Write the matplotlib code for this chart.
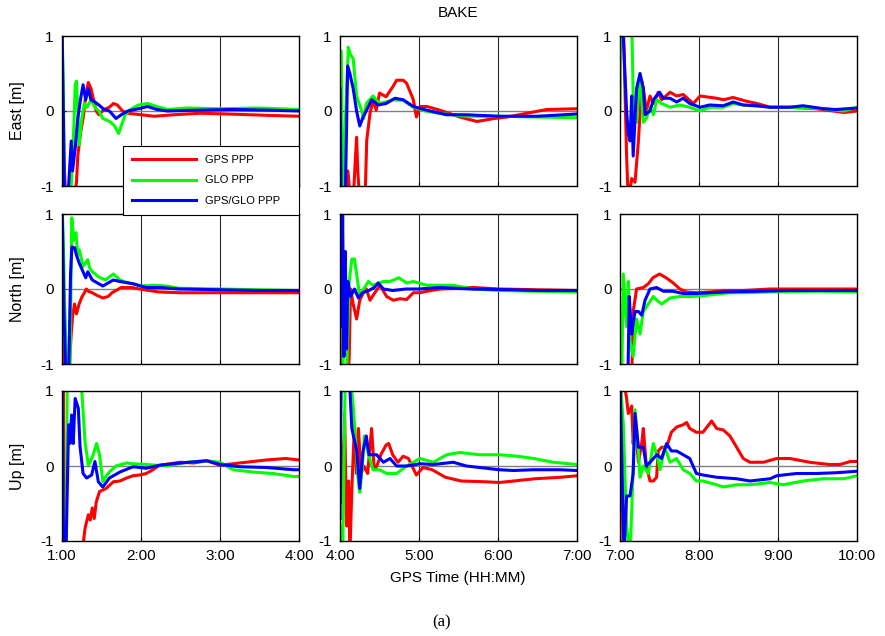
import matplotlib
matplotlib.use("Agg")
import matplotlib.pyplot as plt
import numpy as np

plt.rcParams['font.family'] = ['Liberation Sans', 'DejaVu Sans']
plt.rcParams['axes.unicode_minus'] = False

# ---- data: minutes after session start, metres ----
# East, session 1 (1:00-4:00)
e1_gps_t = [0, 1, 3, 6, 9, 11, 12, 14, 16, 18, 20, 22, 24, 26, 28, 32, 36, 39, 42, 46, 50, 60, 70, 85, 105, 125, 143, 160, 180]
e1_gps = [0.0, -0.5, -1.2, -1.2, -1.2, -0.95, -0.6, -0.3, -0.1, 0.2, 0.38, 0.3, 0.15, 0.0, -0.05, 0.02, 0.05, 0.1, 0.08, 0.0, -0.03, -0.05, -0.07, -0.05, -0.03, -0.04, -0.05, -0.06, -0.07]
e1_glo_t = [0, 1, 2, 4, 7, 8, 9, 10, 11, 12, 13, 15, 17, 19, 22, 25, 28, 31, 34, 37, 40, 43, 45, 48, 52, 58, 65, 72, 80, 95, 120, 150, 180]
e1_glo = [1.2, 0.2, -1.2, -1.2, -1.0, -0.6, -0.2, 0.35, 0.4, 0.0, -0.45, -0.1, 0.1, 0.05, 0.15, 0.05, 0.0, -0.1, -0.12, -0.15, -0.2, -0.3, -0.2, -0.05, 0.02, 0.08, 0.1, 0.06, 0.02, 0.04, 0.03, 0.04, 0.02]
e1_cmb_t = [0, 1, 2, 5, 7, 8, 10, 12, 14, 16, 18, 20, 22, 25, 28, 32, 36, 41, 45, 50, 58, 65, 72, 80, 100, 130, 160, 180]
e1_cmb = [1.2, 0.0, -1.2, -1.0, -0.4, -0.8, -0.5, -0.1, 0.15, 0.35, 0.15, 0.3, 0.15, 0.12, 0.08, 0.02, 0.0, -0.1, -0.05, 0.0, 0.03, 0.06, 0.02, 0.0, 0.01, 0.02, 0.01, 0.0]

# North, session 1
n1_gps_t = [0, 0.5, 1.5, 5, 7, 8, 9.5, 11, 13, 15, 17, 18.5, 20, 23, 26, 31, 35, 38, 41, 45, 49, 53, 59, 66, 74, 90, 120, 150, 180]
n1_gps = [-0.45, -1.2, -1.2, -1.2, -0.6, -0.37, -0.2, -0.33, -0.2, -0.11, -0.05, 0.0, -0.03, -0.05, -0.08, -0.12, -0.1, -0.05, -0.02, 0.02, 0.02, 0.02, 0.0, -0.02, -0.04, -0.05, -0.05, -0.05, -0.05]
n1_glo_t = [0, 1, 2, 4, 6, 7.4, 9, 10.6, 12, 13.2, 16, 19.5, 21, 23, 28, 33, 39, 44, 50, 54, 59, 70, 79, 89, 120, 150, 180]
n1_glo = [1.2, 0.63, -0.2, -1.2, -1.2, 0.95, 0.65, 0.75, 0.45, 0.52, 0.3, 0.39, 0.28, 0.23, 0.16, 0.12, 0.2, 0.12, 0.08, 0.07, 0.04, 0.05, 0.04, 0.01, 0.0, -0.01, -0.02]
n1_cmb_t = [0, 1.5, 3, 5, 6.5, 7.5, 9.6, 11, 13, 16, 18, 19.6, 23, 27, 31, 35, 39, 44, 54, 64, 74, 89, 120, 150, 180]
n1_cmb = [1.2, -0.3, -1.2, -1.2, 0.2, 0.56, 0.55, 0.45, 0.35, 0.23, 0.15, 0.23, 0.12, 0.08, 0.04, 0.08, 0.12, 0.1, 0.07, 0.02, 0.02, 0.0, -0.01, -0.02, -0.02]

# Up, session 1
u1_gps_t = [0, 0.8, 2, 5, 10, 16, 17.5, 20, 21.5, 23, 24.5, 26, 28.5, 33.5, 39, 44, 49, 54, 59, 64, 69, 74, 90, 100, 110, 120, 135, 155, 170, 180]
u1_gps = [-1.2, 1.2, -1.2, -1.2, -1.2, -1.05, -0.83, -0.65, -0.72, -0.56, -0.7, -0.48, -0.34, -0.3, -0.21, -0.2, -0.16, -0.13, -0.12, -0.1, -0.05, 0.01, 0.05, 0.04, 0.07, 0.01, 0.04, 0.08, 0.1, 0.08]
u1_glo_t = [0, 0.5, 1.5, 3, 4, 6, 10, 15, 17.5, 20, 22, 23.7, 26.3, 28.5, 31, 33, 36, 41, 49, 54, 64, 72, 79, 95, 110, 120, 130, 145, 160, 176, 180]
u1_glo = [0.5, -1.2, -1.2, -1.2, 1.2, 1.2, 1.2, 1.0, 0.32, 0.01, 0.08, 0.15, 0.3, 0.15, -0.21, -0.15, -0.08, 0.0, 0.04, 0.03, 0.02, 0.01, 0.0, 0.05, 0.07, 0.05, -0.05, -0.08, -0.1, -0.14, -0.14]
u1_cmb_t = [0, 0.7, 1.5, 3, 5, 6, 7.3, 8.5, 10, 12.4, 13.7, 16, 18.7, 22.5, 25, 27.6, 31, 36, 44, 54, 64, 74, 90, 110, 120, 135, 155, 176, 180]
u1_cmb = [1.2, -0.5, -1.2, -1.2, 0.55, 0.3, 0.68, 0.3, 0.9, 0.77, 0.26, -0.1, -0.16, -0.12, 0.06, -0.21, -0.28, -0.16, -0.08, -0.01, -0.03, 0.01, 0.04, 0.07, 0.02, -0.01, -0.02, -0.05, -0.05]

# East, session 2 (4:00-7:00)
e2_gps_t = [0, 1, 3, 6, 8, 10, 11.5, 12.6, 13.5, 15, 17, 19, 20.3, 22.8, 25.3, 27.5, 30, 35, 40, 43, 48, 50.6, 55.7, 58, 60.8, 66, 76, 91, 104, 117, 127, 142, 157, 180]
e2_gps = [-1.2, -0.85, -1.2, -0.8, -1.2, -1.2, -0.7, -0.35, -0.8, -1.2, -1.2, -1.2, -0.39, -0.03, 0.15, 0.01, 0.24, 0.19, 0.32, 0.41, 0.41, 0.37, 0.15, -0.08, 0.06, 0.06, 0.01, -0.08, -0.14, -0.1, -0.08, -0.03, 0.02, 0.03]
e2_glo_t = [0, 1, 2, 4, 6.3, 8, 10, 12.6, 14.5, 16.5, 18, 20, 25, 30, 35, 40, 48, 55.7, 65, 71, 85, 96, 120, 147, 180]
e2_glo = [0.8, 0.8, -1.2, -0.2, 0.85, 0.75, 0.7, 0.2, 0.1, 0.0, -0.1, 0.1, 0.2, 0.1, 0.12, 0.15, 0.14, 0.05, 0.0, -0.02, -0.05, -0.07, -0.07, -0.08, -0.09]
e2_cmb_t = [0, 1, 2.5, 4, 5.8, 7.5, 10, 12.6, 15, 17.5, 20.2, 24, 29, 35, 41.7, 48, 55.7, 66, 81, 96, 121, 150, 180]
e2_cmb = [0.3, -1.2, -1.2, -1.2, 0.6, 0.5, 0.3, 0.0, -0.2, -0.08, 0.01, 0.15, 0.08, 0.1, 0.17, 0.15, 0.06, 0.01, -0.05, -0.05, -0.07, -0.07, -0.04]

# North, session 2
n2_gps_t = [0, 1, 2, 4, 6, 7, 8, 10, 12.6, 15, 17.7, 20, 22.8, 25.3, 30.4, 35.4, 40.5, 45.5, 50.6, 55.7, 60.8, 66, 76, 91, 101, 111, 121, 150, 180]
n2_gps = [1.2, 0.3, -1.2, -1.2, -1.2, -0.9, 0.0, -0.2, -0.4, -0.15, -0.05, 0.0, -0.15, -0.08, 0.05, -0.1, -0.15, -0.13, -0.14, -0.05, -0.05, -0.03, 0.0, 0.01, 0.02, 0.01, 0.0, -0.01, -0.02]
n2_glo_t = [0, 1.5, 2.5, 5, 7, 9, 11, 12.6, 15, 18, 21.5, 25, 33, 38, 44.6, 50.6, 55.7, 66, 86, 101, 121, 150, 180]
n2_glo = [1.2, 1.2, -1.2, -1.2, 0.1, 0.4, 0.4, 0.2, -0.1, 0.0, 0.1, 0.05, 0.1, 0.1, 0.15, 0.08, 0.1, 0.05, 0.05, 0.0, -0.02, -0.03, -0.04]
n2_cmb_t = [0, 1, 2, 3, 4, 5, 6, 8, 11, 14, 17, 22, 26, 29, 33, 40, 50, 60, 76, 100, 130, 150, 180]
n2_cmb = [1.2, -0.5, 1.0, -0.9, 0.5, -0.8, 0.1, -0.1, 0.0, -0.12, -0.05, -0.02, 0.02, 0.08, 0.0, -0.02, 0.0, 0.0, 0.02, 0.0, -0.01, -0.02, -0.02]

# Up, session 2
u2_gps_t = [0, 2, 3.5, 5, 6.5, 7.5, 9, 11, 12.5, 14, 16, 18, 21, 24, 26, 28, 31, 35, 37, 40, 44, 48, 52, 58, 63, 70, 80, 92, 110, 121, 132, 148, 168, 180]
u2_gps = [0.6, -0.5, 0.7, -0.8, -0.2, -1.2, -0.3, 0.55, -0.1, 0.5, -0.1, 0.0, -0.1, 0.5, -0.05, 0.0, 0.15, 0.28, 0.3, 0.15, 0.05, 0.13, 0.1, -0.12, -0.02, -0.05, -0.15, -0.2, -0.21, -0.22, -0.2, -0.17, -0.15, -0.13]
u2_glo_t = [0, 1, 2, 4, 6, 8, 10, 12, 13.9, 15, 17, 18.5, 21, 25, 30, 35.4, 43, 50.6, 60.8, 71, 81, 91, 106, 121, 135, 147, 162, 180]
u2_glo = [-0.8, -1.2, -1.2, 1.2, 1.2, 1.2, 0.8, 0.3, -0.2, -0.35, 0.0, 0.4, 0.2, -0.05, -0.05, -0.1, -0.1, 0.0, 0.1, 0.05, 0.15, 0.18, 0.15, 0.15, 0.13, 0.1, 0.05, 0.02]
u2_cmb_t = [0, 0.5, 1, 7, 9, 12.7, 15, 17.5, 20, 22, 27.8, 33, 38, 43, 50.6, 60.8, 71, 86, 96, 111, 121, 132, 147, 167, 180]
u2_cmb = [-0.7, 0.5, 1.2, 1.2, 0.5, 0.2, -0.3, 0.2, 0.4, 0.15, 0.15, 0.05, 0.1, 0.0, 0.0, 0.03, 0.02, 0.05, 0.0, -0.03, -0.05, -0.06, -0.05, -0.05, -0.06]

# East, session 3 (7:00-10:00)
e3_gps_t = [0, 2.5, 5, 6.3, 8.9, 11.4, 14, 16.5, 17.7, 20, 22.8, 25.3, 29, 31.6, 38, 43, 48, 55.7, 60.8, 73.4, 78.5, 86, 96, 104, 114, 129, 149, 162, 170, 180]
e3_gps = [1.2, 1.2, -0.6, -1.2, -0.9, -0.95, -0.4, 0.4, 0.3, 0.0, 0.2, 0.1, 0.25, 0.15, 0.25, 0.2, 0.22, 0.1, 0.2, 0.17, 0.15, 0.18, 0.13, 0.1, 0.05, 0.05, 0.03, 0.0, -0.02, 0.0]
e3_glo_t = [0, 0.5, 2, 5.6, 8.9, 10, 12.6, 15.2, 17.7, 20, 22.8, 25.3, 28, 31.6, 38, 45.5, 53, 60.8, 68, 78.5, 86, 93.6, 114, 129, 155, 170, 180]
e3_glo = [0.0, 1.2, 1.2, 1.2, 1.2, 0.2, -0.15, 0.5, -0.15, -0.1, 0.05, -0.05, 0.15, 0.1, 0.05, 0.08, 0.05, 0.0, 0.05, 0.05, 0.1, 0.08, 0.05, 0.05, 0.03, 0.0, 0.05]
e3_cmb_t = [0, 2.5, 5, 6.3, 7.6, 8.9, 10, 12.6, 15.2, 17.7, 19, 22.8, 25.3, 30, 33, 38, 43, 48, 53, 60.8, 68, 78.5, 86, 93.6, 104, 114, 129, 139, 155, 164, 180]
e3_cmb = [1.2, 1.0, 0.0, -0.3, -0.4, 0.2, -0.6, 0.3, 0.5, 0.3, -0.05, 0.0, 0.15, 0.25, 0.17, 0.17, 0.12, 0.17, 0.1, 0.05, 0.08, 0.07, 0.12, 0.08, 0.07, 0.05, 0.05, 0.07, 0.03, 0.02, 0.04]

# North, session 3
n3_gps_t = [0, 5, 8.9, 10, 12.6, 17.7, 21.5, 25, 30, 35, 40.5, 45.5, 50.6, 58, 68, 78.5, 93.6, 114, 150, 180]
n3_gps = [-1.2, -1.2, -1.2, -0.3, 0.0, 0.02, 0.07, 0.15, 0.2, 0.15, 0.08, 0.0, -0.04, -0.05, -0.04, -0.02, -0.02, 0.0, 0.0, 0.0]
n3_glo_t = [0, 1.5, 2.5, 5, 6.3, 7.6, 10, 12.6, 15.2, 17.7, 21.5, 25.3, 28, 31.6, 38, 45.5, 53, 63, 73.4, 83, 93.6, 114, 150, 180]
n3_glo = [-1.2, -1.0, 0.2, -0.5, 0.1, -0.7, -0.9, -0.4, -0.6, -0.3, -0.2, -0.1, -0.15, -0.2, -0.12, -0.1, -0.1, -0.09, -0.07, -0.05, -0.05, -0.04, -0.03, -0.04]
n3_cmb_t = [0, 6, 7, 8.8, 11.4, 14, 16.5, 19, 22.8, 27.8, 33, 40, 48, 58, 78.5, 104, 129, 155, 180]
n3_cmb = [-1.2, -1.2, -0.1, -0.6, -0.3, -0.3, -0.35, -0.15, 0.0, 0.02, -0.03, -0.03, -0.06, -0.06, -0.04, -0.03, -0.02, -0.02, -0.02]

# Up, session 3
u3_gps_t = [0, 1, 2.5, 5, 6.3, 8.9, 10, 11.4, 14, 16.5, 17.7, 20, 22.8, 25.3, 27.8, 29, 31.6, 35.4, 39, 43, 48, 50.6, 53, 58, 63, 69.6, 73.4, 78.5, 83.5, 88.6, 93.6, 98.7, 109, 119, 129, 144, 159, 167, 175, 180]
u3_gps = [-1.2, 1.2, 1.2, 0.9, 0.7, 0.8, 0.3, 0.6, 0.05, 0.3, 0.5, 0.0, -0.2, -0.2, -0.15, 0.2, 0.25, 0.25, 0.45, 0.52, 0.55, 0.58, 0.5, 0.45, 0.45, 0.6, 0.5, 0.48, 0.4, 0.25, 0.1, 0.05, 0.05, 0.1, 0.1, 0.05, 0.02, 0.02, 0.06, 0.06]
u3_glo_t = [0, 2.5, 5, 7.6, 8.9, 11.4, 14, 15.2, 17.7, 21.5, 25.3, 28, 30.4, 34, 38, 43, 48, 53, 58, 63, 73.4, 78.5, 88.6, 98.7, 114, 124, 139, 154, 170, 180]
u3_glo = [1.2, 0.55, -0.8, -1.2, -0.6, 0.75, 0.2, -0.15, 0.0, -0.1, 0.3, 0.15, -0.05, 0.25, 0.05, 0.1, -0.05, -0.1, -0.2, -0.2, -0.25, -0.28, -0.25, -0.25, -0.22, -0.25, -0.2, -0.17, -0.17, -0.13]
u3_cmb_t = [0, 3, 5, 7.6, 10, 11.4, 14, 17.7, 20, 22.8, 28, 31.6, 35.4, 39, 43, 48, 53, 58, 63, 73.4, 88.6, 98.7, 114, 119, 134, 149, 164, 180]
u3_cmb = [1.2, -1.2, -0.4, -0.4, -0.1, 0.7, 0.25, 0.25, 0.0, 0.05, 0.15, 0.1, 0.3, 0.2, 0.2, 0.15, 0.1, -0.1, -0.12, -0.15, -0.17, -0.2, -0.17, -0.13, -0.1, -0.1, -0.09, -0.07]

session_start = [1, 4, 7]
row_labels = ['East [m]', 'North [m]', 'Up [m]']
series_names = ['GPS PPP', 'GLO PPP', 'GPS/GLO PPP']
series_colors = ['#ff0000', '#00ff00', '#0000ff']

panels = [
    [[(e1_gps_t, e1_gps), (e1_glo_t, e1_glo), (e1_cmb_t, e1_cmb)],
     [(e2_gps_t, e2_gps), (e2_glo_t, e2_glo), (e2_cmb_t, e2_cmb)],
     [(e3_gps_t, e3_gps), (e3_glo_t, e3_glo), (e3_cmb_t, e3_cmb)]],
    [[(n1_gps_t, n1_gps), (n1_glo_t, n1_glo), (n1_cmb_t, n1_cmb)],
     [(n2_gps_t, n2_gps), (n2_glo_t, n2_glo), (n2_cmb_t, n2_cmb)],
     [(n3_gps_t, n3_gps), (n3_glo_t, n3_glo), (n3_cmb_t, n3_cmb)]],
    [[(u1_gps_t, u1_gps), (u1_glo_t, u1_glo), (u1_cmb_t, u1_cmb)],
     [(u2_gps_t, u2_gps), (u2_glo_t, u2_glo), (u2_cmb_t, u2_cmb)],
     [(u3_gps_t, u3_gps), (u3_glo_t, u3_glo), (u3_cmb_t, u3_cmb)]],
]

W, H = 885.0, 636.0
fig = plt.figure(figsize=(W / 100, H / 100), dpi=100)

col_left = [62, 340, 620]
row_top = [36, 214, 391]
aw, ah = 237, 150

axes = {}
for r in range(3):
    for c in range(3):
        ax = fig.add_axes([col_left[c] / W, 1 - (row_top[r] + ah) / H, aw / W, ah / H])
        axes[(r, c)] = ax
        s = session_start[c]
        for h in [s + 1, s + 2]:
            ax.axvline(h, color='#2a2a2a', lw=0.8, zorder=1)
        ax.axhline(0, color='#808080', lw=1.0, zorder=1)
        for (t, v), name, col in zip(panels[r][c], series_names, series_colors):
            ax.plot(s + np.array(t) / 60.0, v, color=col, lw=2.2, label=name, zorder=2)
        ax.set_xlim(s, s + 3)
        ax.set_ylim(-1, 1)
        ax.set_yticks([-1, 0, 1])
        ax.set_xticks([s, s + 1, s + 2, s + 3])
        if r == 2:
            ax.set_xticklabels(['%d:00' % h for h in [s, s + 1, s + 2, s + 3]])
        else:
            ax.set_xticklabels([])
        ax.tick_params(direction='in', length=3, labelsize=11, pad=6, width=0.8)
        for sp in ax.spines.values():
            sp.set_linewidth(1.0)
            sp.set_color('black')
        if c == 0:
            ax.set_ylabel(row_labels[r], fontsize=11.5)
            ax.yaxis.set_label_coords(-0.155, 0.5)

ax0 = axes[(0, 0)]
ax0.set_zorder(5)
leg = ax0.legend(loc='upper left', bbox_to_anchor=(0.258, 0.267, 0.742, 0.0), mode='expand',
                 borderaxespad=0, fontsize=8, handlelength=5.8, handletextpad=0.8,
                 labelspacing=0.95, borderpad=0.8, fancybox=False, framealpha=1)
leg.get_frame().set_edgecolor('black')
leg.get_frame().set_linewidth(0.8)

fig.text(458 / W, 1 - 13 / H, 'BAKE', ha='center', va='center', fontsize=11)
fig.text(458 / W, 1 - 578 / H, 'GPS Time (HH:MM)', ha='center', va='center', fontsize=11)
fig.text(442 / W, 1 - 622 / H, '(a)', ha='center', va='center', fontsize=12,
         family=['Liberation Serif', 'DejaVu Serif'])

fig.savefig('out.png', dpi=100)
